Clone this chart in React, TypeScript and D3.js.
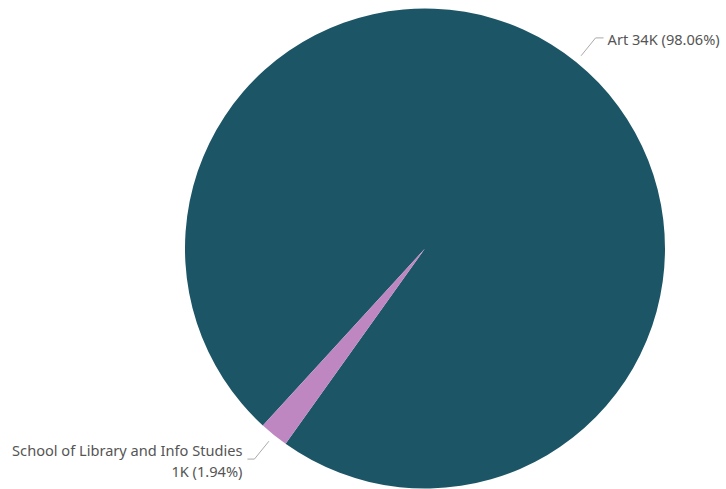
import React from "react";
import * as d3 from "d3";

const categories = ["Art", "School of Library and Info Studies"];
const values = [34000, 673];
const valueLabels = ["34K", "1K"];
const percentLabels = ["98.06%", "1.94%"];
const colors = ["#1C5566", "#BF87C2"];

const W = 726;
const H = 489;
const cx = 425;
const cy = 248.5;
const R = 240;
const offset = (-137.5 * Math.PI) / 180;

export default function App() {
  const pie = d3
    .pie<number>()
    .sort(null)
    .value((d) => d)
    .startAngle(offset)
    .endAngle(offset + 2 * Math.PI);
  const arcs = pie(values);
  const arc = d3.arc<d3.PieArcDatum<number>>().innerRadius(0).outerRadius(R);
  const font = "'Segoe UI', 'Noto Sans', sans-serif";
  const fs = 14.6;

  return (
    <svg
      width={W}
      height={H}
      style={{ position: "absolute", left: 0, top: 0, background: "#fff" }}
    >
      <g transform={`translate(${cx},${cy})`}>
        {arcs.map((a, i) => (
          <path key={i} d={arc(a) || ""} fill={colors[i]} />
        ))}
        {arcs.map((a, i) => {
          const mid = (a.startAngle + a.endAngle) / 2;
          const r1 = R + 8;
          const r2 = R + 31;
          const x1 = r1 * Math.sin(mid);
          const y1 = -r1 * Math.cos(mid);
          const x2 = r2 * Math.sin(mid);
          const y2 = -r2 * Math.cos(mid);
          const right = Math.sin(mid) > 0;
          const x3 = x2 + (right ? 8 : -7);
          const tx = x3 + (right ? 4 : -5);
          return (
            <g key={"l" + i}>
              <polyline
                points={`${x1},${y1} ${x2},${y2} ${x3},${y2}`}
                fill="none"
                stroke="#aaa"
                strokeWidth={1}
              />
              {right ? (
                <text
                  x={tx}
                  y={y2 + 7}
                  fontFamily={font}
                  fontSize={fs}
                  fill="#555"
                  textAnchor="start"
                >
                  {`${categories[i]} ${valueLabels[i]} (${percentLabels[i]})`}
                </text>
              ) : (
                <text
                  x={tx}
                  y={y2 - 3}
                  fontFamily={font}
                  fontSize={fs}
                  fill="#555"
                  textAnchor="end"
                >
                  <tspan x={tx}>{categories[i]}</tspan>
                  <tspan x={tx} dy={21}>{`${valueLabels[i]} (${percentLabels[i]})`}</tspan>
                </text>
              )}
            </g>
          );
        })}
      </g>
    </svg>
  );
}
